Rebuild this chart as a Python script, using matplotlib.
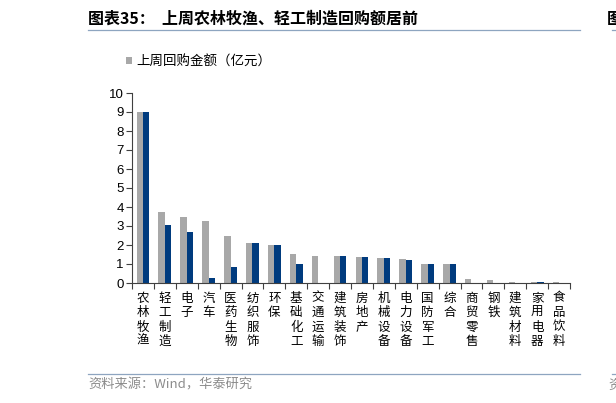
import matplotlib
matplotlib.use('Agg')
import matplotlib.pyplot as plt
import numpy as np

plt.rcParams['font.family'] = ['Noto Sans CJK SC', 'DejaVu Sans']

# data
categories = ['农林牧渔', '轻工制造', '电子', '汽车', '医药生物', '纺织服饰', '环保',
              '基础化工', '交通运输', '建筑装饰', '房地产', '机械设备', '电力设备',
              '国防军工', '综合', '商贸零售', '钢铁', '建筑材料', '家用电器', '食品饮料']
last_week = [9.0, 3.72, 3.49, 3.28, 2.50, 2.10, 2.02, 1.53, 1.44, 1.44, 1.38, 1.31,
             1.26, 1.02, 0.98, 0.21, 0.17, 0.03, 0.03, 0.03]
this_week = [9.0, 3.07, 2.68, 0.26, 0.86, 2.10, 1.98, 1.02, 0.0, 1.44, 1.38, 1.31,
             1.23, 1.02, 0.98, 0.0, 0.0, 0.0, 0.03, 0.02]
yticks = list(range(0, 11))

grey = '#A8A8A8'
blue = '#003B7E'

fig = plt.figure(figsize=(6.16, 4.03), dpi=100)
ax = fig.add_axes([132/616, 1-283/403, (570-132)/616, (283-93)/403])

x = np.arange(len(categories))
w = 0.29
ax.bar(x - w/2, last_week, w, color=grey, label='上周回购金额（亿元）')
ax.bar(x + w/2, this_week, w, color=blue)

ax.set_xlim(-0.5, len(categories) - 0.5)
ax.set_ylim(0, 10)
ax.set_yticks(yticks)
ax.set_yticklabels([str(t) for t in yticks], fontsize=9.5, family='Liberation Sans')
ax.tick_params(axis='y', length=4, width=0.8, color='#404040', pad=2)

# ticks between categories, labels as vertical stacks
ax.set_xticks(np.arange(len(categories) + 1) - 0.5)
ax.set_xticklabels([])
ax.tick_params(axis='x', length=4, width=0.8, color='#404040', direction='out')
for i, c in enumerate(categories):
    ax.text(i, -0.45, '\n'.join(c), ha='center', va='top', fontsize=9,
            linespacing=1.15, transform=ax.transData)

for s in ['top', 'right']:
    ax.spines[s].set_visible(False)
for s in ['left', 'bottom']:
    ax.spines[s].set_color('#404040')
    ax.spines[s].set_linewidth(0.8)

fig.legend(loc='center left', bbox_to_anchor=(126/616, 1-61.5/403), frameon=False,
           fontsize=9.7, handlelength=0.45, handleheight=0.45, handletextpad=0.35,
           borderaxespad=0, borderpad=0)

# header / footer
fig.text(88/616, 1-19/403, '图表35：  上周农林牧渔、轻工制造回购额居前', fontsize=11.5,
         fontweight='bold', va='center', ha='left')
fig.add_artist(plt.Line2D([88/616, 580/616], [1-30/403, 1-30/403], color='#8EA5C0', lw=0.9))
fig.add_artist(plt.Line2D([612/616, 1], [1-30/403, 1-30/403], color='#8EA5C0', lw=0.9))
fig.text(607/616, 1-19/403, '图', fontsize=11.5, fontweight='bold', va='center', ha='left')
fig.add_artist(plt.Line2D([88/616, 580/616], [1-374/403, 1-374/403], color='#8EA5C0', lw=0.9))
fig.add_artist(plt.Line2D([612/616, 1], [1-374/403, 1-374/403], color='#8EA5C0', lw=0.9))
fig.text(88/616, 1-385/403, '资料来源：Wind，华泰研究', fontsize=9.5, color='#8C8C8C',
         va='center', ha='left')
fig.text(608/616, 1-385/403, '资', fontsize=9.5, color='#8C8C8C', va='center', ha='left')

fig.savefig('out.png', dpi=100)
